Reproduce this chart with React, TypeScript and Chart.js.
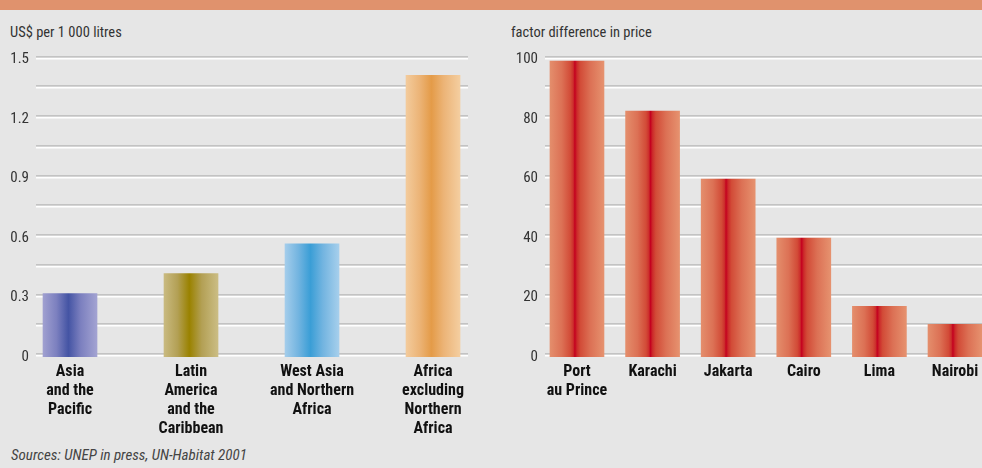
import React, { useEffect, useRef } from "react";
import { Chart, registerables } from "chart.js";

Chart.register(...registerables);

// ---------- data ----------
const regionLabels: (string | string[])[] = [
  ["Asia", "and the", "Pacific"],
  ["Latin", "America", "and the", "Caribbean"],
  ["West Asia", "and Northern", "Africa"],
  ["Africa", "excluding", "Northern", "Africa"],
];
const regionValues = [0.32, 0.42, 0.57, 1.42];
const regionTicks = [0, 0.3, 0.6, 0.9, 1.2, 1.5];
const regionTickLabels = ["0", "0.3", "0.6", "0.9", "1.2", "1.5"];
const regionAxisTitle = "US$ per 1 000 litres";

const cityLabels: (string | string[])[] = [
  ["Port", "au Prince"],
  "Karachi",
  "Jakarta",
  "Cairo",
  "Lima",
  "Nairobi",
];
const cityValues = [99.5, 82.7, 59.8, 40, 17, 11];
const cityTicks = [0, 20, 40, 60, 80, 100];
const cityTickLabels = ["0", "20", "40", "60", "80", "100"];
const cityAxisTitle = "factor difference in price";

const sourceText = "Sources: UNEP in press, UN-Habitat 2001";

// ---------- styles ----------
const FONT = '"Liberation Sans Narrow", "Roboto Condensed", Roboto, sans-serif';
const BG = "#e6e6e6";

type Stops = [number, string][];
const regionStops: Stops[] = [
  [[0, "#a0a0d0"], [0.25, "#7c80bf"], [0.47, "#4454a4"], [0.7, "#7c80bf"], [1, "#a3a3d2"]],
  [[0, "#c9ba80"], [0.25, "#b3a055"], [0.47, "#9a8200"], [0.7, "#b3a055"], [1, "#cbbd84"]],
  [[0, "#a4cdeb"], [0.25, "#72b4e0"], [0.47, "#3a9ed6"], [0.7, "#72b4e0"], [1, "#a6cfec"]],
  [[0, "#f3cb9c"], [0.25, "#ecb477"], [0.47, "#e49b48"], [0.7, "#ecb477"], [1, "#f4cea0"]],
];
const redStops: Stops = [
  [0, "#e48e6c"],
  [0.22, "#dc7155"],
  [0.38, "#d24b37"],
  [0.43, "#cc2f2c"],
  [0.46, "#c4001f"],
  [0.5, "#cc2a2a"],
  [0.56, "#d24b37"],
  [0.75, "#dc7155"],
  [1, "#e6926f"],
];

const gridPlugin = {
  id: "embossGrid",
  beforeDatasetsDraw(chart: any, _args: any, opts: any) {
    const ys = chart.scales.y;
    const { left, right } = chart.chartArea;
    const ctx = chart.ctx;
    const n = Math.round(opts.max / opts.step);
    ctx.save();
    for (let k = 0; k <= n; k++) {
      const y = Math.round(ys.getPixelForValue(k * opts.step));
      ctx.fillStyle = "#c3c3c3";
      ctx.fillRect(left, y - 4, right - left, 1.5);
      ctx.fillStyle = "#ffffff";
      ctx.fillRect(left, y - 2, right - left, 1.5);
    }
    ctx.restore();
  },
};

type PanelProps = {
  labels: (string | string[])[];
  values: number[];
  ticks: number[];
  tickLabels: string[];
  gridStep: number;
  xMin: number;
  xMax: number;
  yAxisWidth: number;
  padRight: number;
  stopsFor: (i: number) => Stops;
  left: number;
  width: number;
};

function Panel(p: PanelProps) {
  const ref = useRef<HTMLCanvasElement>(null);
  useEffect(() => {
    if (!ref.current) return;
    const yMax = p.ticks[p.ticks.length - 1];
    const chart = new Chart(ref.current, {
      type: "bar",
      data: {
        datasets: [
          {
            data: p.values.map((v, i) => ({ x: i, y: v })),
            barThickness: 54,
            borderWidth: 0,
            backgroundColor: (c: any) => {
              const stops = p.stopsFor(c.dataIndex ?? 0);
              const xs = c.chart.scales && c.chart.scales.x;
              if (!xs || c.dataIndex == null) return stops[2][1];
              const cx = xs.getPixelForValue(c.dataIndex);
              if (!Number.isFinite(cx)) return stops[2][1];
              const g = c.chart.ctx.createLinearGradient(cx - 27, 0, cx + 27, 0);
              stops.forEach(([o, col]) => g.addColorStop(o, col));
              return g;
            },
          } as any,
        ],
      },
      options: {
        animation: false,
        responsive: false,
        maintainAspectRatio: false,
        layout: { padding: { top: 19.5, right: p.padRight, left: 0, bottom: 0 } },
        plugins: {
          legend: { display: false },
          tooltip: { enabled: false },
          embossGrid: { step: p.gridStep, max: yMax },
        } as any,
        scales: {
          x: {
            type: "linear",
            min: p.xMin,
            max: p.xMax,
            offset: false,
            grid: { display: false, offset: false, drawTicks: false, tickLength: 0 },
            border: { display: false },
            afterBuildTicks: (s: any) => {
              s.ticks = p.labels.map((_, i) => ({ value: i }));
            },
            afterFit: (s: any) => {
              s.height = 83;
              s.paddingLeft = 0;
              s.paddingRight = 0;
            },
            ticks: {
              autoSkip: false,
              maxRotation: 0,
              padding: 6,
              color: "#111111",
              font: { family: FONT, size: 16, weight: "bold", lineHeight: 1.17 },
              callback: (_v: any, i: number) => p.labels[i],
            },
          },
          y: {
            type: "linear",
            min: 0,
            max: yMax,
            grid: { display: false, drawTicks: false, tickLength: 0 },
            border: { display: false },
            afterBuildTicks: (s: any) => {
              s.ticks = p.ticks.map((v) => ({ value: v }));
            },
            afterFit: (s: any) => {
              s.width = p.yAxisWidth;
            },
            ticks: {
              padding: 7,
              color: "#333333",
              font: { family: FONT, size: 15 },
              callback: (_v: any, i: number) => p.tickLabels[i],
            },
          },
        },
      },
      plugins: [gridPlugin],
    } as any);
    return () => chart.destroy();
  }, []);
  return (
    <canvas
      ref={ref}
      width={p.width}
      height={400}
      style={{ position: "absolute", left: p.left, top: 40, width: p.width, height: 400 }}
    />
  );
}

export default function App() {
  const textBase: React.CSSProperties = {
    position: "absolute",
    fontFamily: FONT,
    fontSize: 14.5,
    lineHeight: "16px",
    color: "#333",
    whiteSpace: "nowrap",
  };
  return (
    <div
      style={{
        position: "fixed",
        left: 0,
        top: 0,
        width: 982,
        height: 468,
        background: BG,
        overflow: "hidden",
      }}
    >
      <div style={{ position: "absolute", left: 0, top: 0, width: 982, height: 10, background: "#e0926d" }} />
      <div style={{ ...textBase, left: 10, top: 25 }}>{regionAxisTitle}</div>
      <div style={{ ...textBase, left: 511, top: 25 }}>{cityAxisTitle}</div>
      <Panel
        labels={regionLabels}
        values={regionValues}
        ticks={regionTicks}
        tickLabels={regionTickLabels}
        gridStep={0.15}
        xMin={-0.281}
        xMax={3.289}
        yAxisWidth={36}
        padRight={22}
        stopsFor={(i) => regionStops[i % regionStops.length]}
        left={0}
        width={490}
      />
      <Panel
        labels={cityLabels}
        values={cityValues}
        ticks={cityTicks}
        tickLabels={cityTickLabels}
        gridStep={10}
        xMin={-0.423}
        xMax={5.357}
        yAxisWidth={55}
        padRight={0}
        stopsFor={() => redStops}
        left={490}
        width={492}
      />
      <div style={{ ...textBase, left: 11, top: 447, fontSize: 15, fontStyle: "italic", color: "#444" }}>
        {sourceText}
      </div>
    </div>
  );
}
